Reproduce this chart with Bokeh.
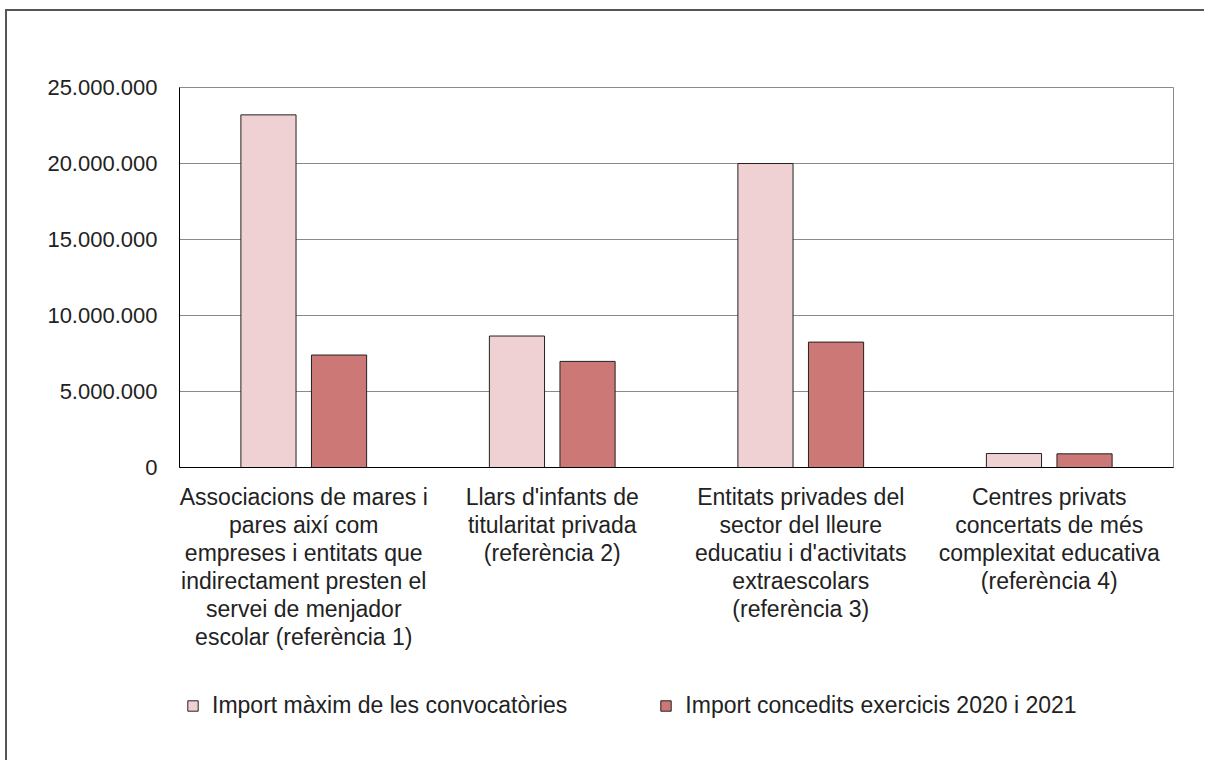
from bokeh.plotting import figure
from bokeh.layouts import column
from bokeh.models import (ColumnDataSource, FactorRange, Range1d, CustomJSTickFormatter,
                          Legend, LegendItem, CategoricalAxis)
from bokeh.transform import dodge
from bokeh.embed import file_html
from bokeh.resources import INLINE

category_lines = [
    ["Associacions de mares i", "pares així com", "empreses i entitats que",
     "indirectament presten el", "servei de menjador", "escolar (referència 1)"],
    ["Llars d'infants de", "titularitat privada", "(referència 2)"],
    ["Entitats privades del", "sector del lleure", "educatiu i d'activitats",
     "extraescolars", "(referència 3)"],
    ["Centres privats", "concertats de més", "complexitat educativa", "(referència 4)"],
]
categories = [" ".join(l) for l in category_lines]
import_maxim = [23200000, 8650000, 20000000, 920000]
import_concedit = [7400000, 6980000, 8250000, 900000]
series_names = ["Import màxim de les convocatòries", "Import concedits exercicis 2020 i 2021"]
y_ticks = [0, 5000000, 10000000, 15000000, 20000000, 25000000]

FONT = "Liberation Sans"
TICK_SIZE = "22px"
TEXT_SIZE = "23px"
TXT = "#222222"
C_MAX = "#F0D1D3"
C_CONC = "#CC7876"
EDGE = "#222222"

src = ColumnDataSource(dict(cat=categories, maxim=import_maxim, conc=import_concedit))

p = figure(x_range=FactorRange(*categories, range_padding=0), y_range=Range1d(0, 25000000),
           frame_width=994, frame_height=380,
           min_border_left=172, min_border_top=76, min_border_right=31, min_border_bottom=200,
           output_backend="svg", toolbar_location=None)

p.vbar(x=dodge("cat", -0.142, range=p.x_range), top="maxim", width=0.222, source=src,
       fill_color=C_MAX, line_color=EDGE, line_width=1)
p.vbar(x=dodge("cat", 0.142, range=p.x_range), top="conc", width=0.222, source=src,
       fill_color=C_CONC, line_color=EDGE, line_width=1)

p.outline_line_color = "#8a8a8a"
p.outline_line_width = 1
p.xgrid.grid_line_color = None
p.ygrid.grid_line_color = "#8a8a8a"
p.ygrid.grid_line_width = 1
p.ygrid.ticker = y_ticks
p.yaxis.ticker = y_ticks
p.yaxis.formatter = CustomJSTickFormatter(code="return tick.toFixed(0).replace(/\\B(?=(\\d{3})+(?!\\d))/g, '.');")


def style_axis(ax, size):
    ax.major_tick_line_color = None
    ax.minor_tick_line_color = None
    ax.major_tick_out = 0
    ax.major_tick_in = 0
    ax.major_label_text_font = FONT
    ax.major_label_text_font_size = size
    ax.major_label_text_color = TXT


def line_formatter(i):
    labs = [(l[i] if i < len(l) else "") for l in category_lines]
    return CustomJSTickFormatter(args=dict(cats=categories, labs=labs),
                                 code="const k = cats.indexOf(tick); return k >= 0 ? labs[k] : '';")


p.yaxis.axis_line_color = "#000000"
style_axis(p.yaxis, TICK_SIZE)
p.yaxis.major_label_standoff = 22

xax0 = p.xaxis[0]
xax0.axis_line_color = "#000000"
style_axis(xax0, TEXT_SIZE)
xax0.major_label_standoff = 16
xax0.formatter = line_formatter(0)

max_lines = max(len(l) for l in category_lines)
for i in range(1, max_lines):
    ax = CategoricalAxis(axis_line_color=None)
    style_axis(ax, TEXT_SIZE)
    ax.major_label_standoff = -1
    ax.formatter = line_formatter(i)
    p.add_layout(ax, "below")

# legend strip below the chart (frames are aligned with the main chart)
pl = figure(width=1197, height=93, min_border=0, x_range=Range1d(0, 1), y_range=Range1d(0, 1),
            x_axis_location=None, y_axis_location=None,
            output_backend="svg", toolbar_location=None)
pl.grid.visible = False
pl.outline_line_color = None
l1 = pl.vbar(x=[-1], top=[0], width=0.1, fill_color=C_MAX, line_color=EDGE, line_width=1)
l2 = pl.vbar(x=[-1], top=[0], width=0.1, fill_color=C_CONC, line_color=EDGE, line_width=1)
legend = Legend(items=[LegendItem(label=series_names[0], renderers=[l1]),
                       LegendItem(label=series_names[1], renderers=[l2])],
                orientation="horizontal", location=(7, 41),
                glyph_width=13, glyph_height=13, label_standoff=13, spacing=92,
                padding=0, margin=0, border_line_color=None, background_fill_alpha=0,
                label_text_font=FONT, label_text_font_size=TEXT_SIZE, label_text_color=TXT,
                label_height=23)
pl.add_layout(legend, "center")

layout = column(p, pl, spacing=0)
layout.margin = (9, 0, 0, 5)
layout.styles = {"border-top": "2px solid #555555", "border-left": "2px solid #555555"}

open("out.html", "w").write(file_html(layout, INLINE))
